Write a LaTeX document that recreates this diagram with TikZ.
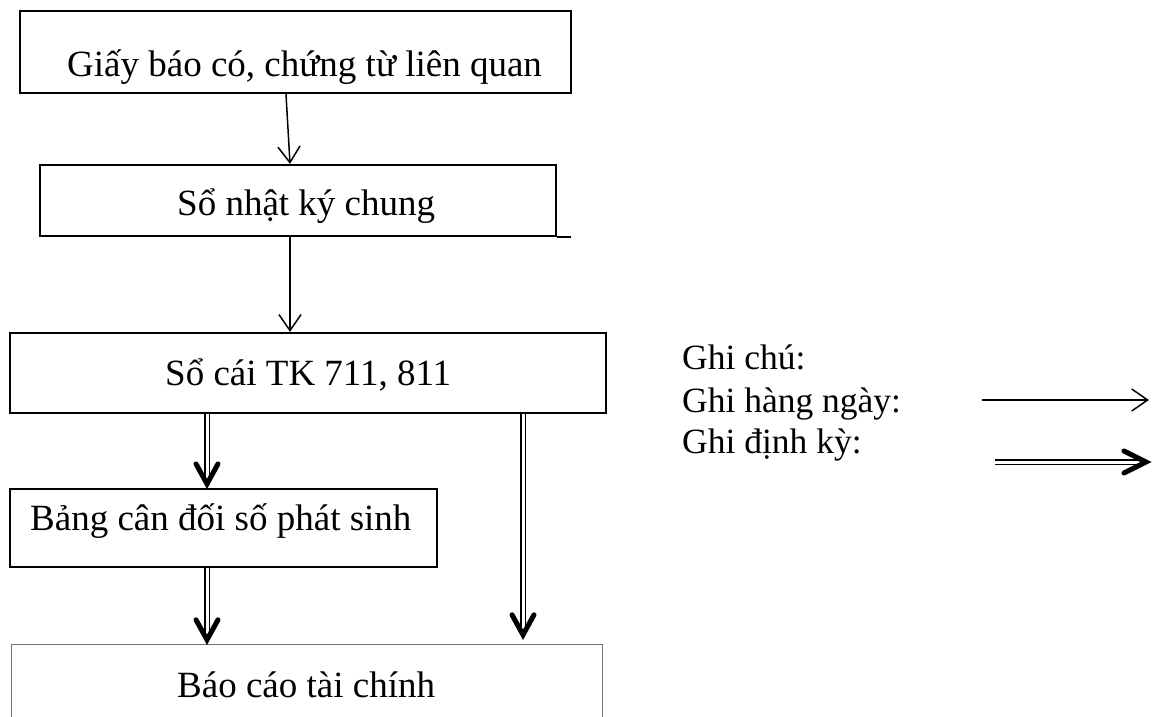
\documentclass[tikz,border=0pt]{standalone}
\usepackage{fontspec}
\setmainfont{Liberation Serif}
\usetikzlibrary{arrows.meta,calc}
\begin{document}
\begin{tikzpicture}[x=1pt,y=-1pt,
  box/.style={draw, line width=2.2pt, inner sep=0pt},
  txt/.style={anchor=base west, inner sep=0pt, font=\fontsize{37}{44}\selectfont},
  ltxt/.style={anchor=base west, inner sep=0pt, font=\fontsize{35.5}{42}\selectfont},
  daily/.style={line width=1.5pt, -{Straight Barb[length=16pt,width=22pt,line width=1.5pt]}},
  dbl/.style={double, double distance=3pt, line width=1.7pt},
  chev/.style={line width=5pt, line cap=round, line join=miter}]
\useasboundingbox (0,0) rectangle (1163,717);

% boxes
\node[box, minimum width=551pt, minimum height=82pt] (b1) at (295.5,52) {};
\node[box, minimum width=516pt, minimum height=71pt] (b2) at (298,200.5) {};
\draw[line width=2.2pt] (b2.south east) -- ([xshift=14pt]b2.south east);
\node[box, minimum width=596pt, minimum height=80pt] (b3) at (308,373) {};
\node[box, minimum width=427pt, minimum height=78pt] (b4) at (223.5,528) {};
\node[inner sep=0pt, minimum width=590pt, minimum height=75pt] (b5) at (307,682.5) {};
\draw[line width=1.1pt, black!55] (b5.south west) -- (b5.north west) -- (b5.north east) -- (b5.south east);

% texts
\node[txt] (t1) at (67,77) {Giấy báo có, chứng từ liên quan};
\node[txt] (t2) at (177,215) {Sổ nhật ký chung};
\node[txt] (t3) at (165,385) {Sổ cái TK 711, 811};
\node[txt] (t4) at (30,530) {Bảng cân đối số phát sinh};
\node[txt] (t5) at (177,697) {Báo cáo tài chính};

% daily arrows
\draw[daily] ([xshift=-9.5pt]b1.south) -- ([xshift=-8pt]b2.north);
\draw[daily] ([xshift=-8pt]b2.south) -- ([xshift=-18pt]b3.north);

% periodic arrows
\coordinate (d1s) at ([xshift=-101pt]b3.south);
\coordinate (d1e) at ([xshift=-16.5pt,yshift=4pt]b4.north);
\draw[dbl] (d1s) -- ([yshift=2pt]d1e);
\draw[chev] ($(d1e)+(-11,-20)$) -- (d1e) -- ($(d1e)+(11,-20)$);

\coordinate (d2s) at ([xshift=-16.5pt]b4.south);
\coordinate (d2e) at ([xshift=-100pt,yshift=5pt]b5.north);
\draw[dbl] (d2s) -- ([yshift=2pt]d2e);
\draw[chev] ($(d2e)+(-11,-20)$) -- (d2e) -- ($(d2e)+(11,-20)$);

\coordinate (d3s) at ([xshift=215pt]b3.south);
\coordinate (d3e) at ([xshift=216pt,yshift=10pt]b5.north);
\draw[dbl] (d3s) -- ([yshift=2pt]d3e);
\draw[chev] ($(d3e)+(-11,-20)$) -- (d3e) -- ($(d3e)+(11,-20)$);

% legend
\node[ltxt] (g1) at (682,369) {Ghi chú:};
\node[ltxt] (g2) at (682,412) {Ghi hàng ngày:};
\node[ltxt] (g3) at (682,453) {Ghi định kỳ:};
\coordinate (l1s) at (982,400);
\coordinate (l1e) at (1149,400);
\draw[daily] (l1s) -- (l1e);
\coordinate (l2s) at (995,462);
\coordinate (l2e) at (1146,462);
\draw[dbl] (l2s) -- ([xshift=-2pt]l2e);
\draw[chev] ($(l2e)+(-22,-11)$) -- (l2e) -- ($(l2e)+(-22,11)$);
\end{tikzpicture}
\end{document}
